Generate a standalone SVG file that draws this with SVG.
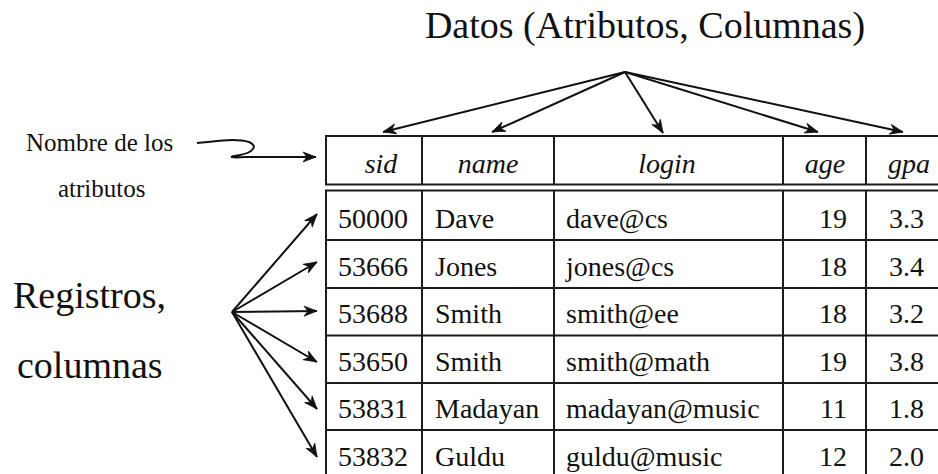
<svg xmlns="http://www.w3.org/2000/svg" width="938" height="474" viewBox="0 0 938 474">
<style>
text{font-family:'Liberation Serif','Tinos','Times New Roman','DejaVu Serif',serif;fill:#111}
.h{font-size:28px;font-style:italic}
.d{font-size:28px}
.grid{fill:none;stroke:#1c1c1c;stroke-width:2}
.arr{fill:none;stroke:#111;stroke-width:2;marker-end:url(#ah)}
</style>
<defs>
<marker id="ah" viewBox="-14 -6 15 12" refX="0" refY="0" markerWidth="15" markerHeight="12" markerUnits="userSpaceOnUse" orient="auto">
<path d="M0,0 L-13,-5 L-9,0 L-13,5 Z" fill="#111" stroke="#111" stroke-width="0.8" stroke-linejoin="miter"/>
</marker>
</defs>
<rect width="938" height="474" fill="#fff"/>

<g id="title">
<text x="645" y="38" font-size="38" text-anchor="middle">Datos (Atributos, Columnas)</text>
</g>
<g id="label-attr">
<text x="26" y="151" font-size="25">Nombre de los</text>
<text x="58" y="197" font-size="25">atributos</text>
</g>
<g id="label-rows">
<text x="13" y="308" font-size="38">Registros,</text>
<text x="17" y="378" font-size="38">columnas</text>
</g>

<g id="table">
<g id="header">
<path class="grid" d="M945,136 H326 V184.5 H945 M422,136 V184.5 M554,136 V184.5 M783,136 V184.5 M866,136 V184.5"/>
<text class="h" x="381" y="173" text-anchor="middle">sid</text>
<text class="h" x="488" y="173" text-anchor="middle">name</text>
<text class="h" x="667" y="173" text-anchor="middle">login</text>
<text class="h" x="825" y="173" text-anchor="middle">age</text>
<text class="h" x="909" y="173" text-anchor="middle">gpa</text>
</g>
<g id="body">
<path class="grid" d="M945,190.5 H326 V480 M326,240 H945 M326,288 H945 M326,335.5 H945 M326,383 H945 M326,430 H945 M422,190.5 V480 M554,190.5 V480 M783,190.5 V480 M866,190.5 V480"/>
<g id="row1">
<text class="d" x="338" y="228">50000</text>
<text class="d" x="435" y="228">Dave</text>
<text class="d" x="566" y="228">dave@cs</text>
<text class="d" x="847" y="228" text-anchor="end">19</text>
<text class="d" x="924" y="228" text-anchor="end">3.3</text>
</g>
<g id="row2">
<text class="d" x="338" y="276">53666</text>
<text class="d" x="435" y="276">Jones</text>
<text class="d" x="566" y="276">jones@cs</text>
<text class="d" x="847" y="276" text-anchor="end">18</text>
<text class="d" x="924" y="276" text-anchor="end">3.4</text>
</g>
<g id="row3">
<text class="d" x="338" y="323">53688</text>
<text class="d" x="435" y="323">Smith</text>
<text class="d" x="566" y="323">smith@ee</text>
<text class="d" x="847" y="323" text-anchor="end">18</text>
<text class="d" x="924" y="323" text-anchor="end">3.2</text>
</g>
<g id="row4">
<text class="d" x="338" y="371">53650</text>
<text class="d" x="435" y="371">Smith</text>
<text class="d" x="566" y="371">smith@math</text>
<text class="d" x="847" y="371" text-anchor="end">19</text>
<text class="d" x="924" y="371" text-anchor="end">3.8</text>
</g>
<g id="row5">
<text class="d" x="338" y="418">53831</text>
<text class="d" x="435" y="418">Madayan</text>
<text class="d" x="566" y="418">madayan@music</text>
<text class="d" x="847" y="418" text-anchor="end">11</text>
<text class="d" x="924" y="418" text-anchor="end">1.8</text>
</g>
<g id="row6">
<text class="d" x="338" y="466">53832</text>
<text class="d" x="435" y="466">Guldu</text>
<text class="d" x="566" y="466">guldu@music</text>
<text class="d" x="847" y="466" text-anchor="end">12</text>
<text class="d" x="924" y="466" text-anchor="end">2.0</text>
</g>
</g>
</g>

<g id="connectors">
<line class="arr" x1="625" y1="72" x2="383" y2="132"/>
<line class="arr" x1="625" y1="72" x2="492" y2="132"/>
<line class="arr" x1="625" y1="72" x2="663" y2="133"/>
<line class="arr" x1="625" y1="72" x2="818" y2="132"/>
<line class="arr" x1="625" y1="72" x2="903" y2="132"/>
<line class="arr" x1="232" y1="312" x2="317" y2="214"/>
<line class="arr" x1="232" y1="312" x2="317" y2="262"/>
<line class="arr" x1="232" y1="312" x2="317" y2="311"/>
<line class="arr" x1="232" y1="312" x2="317" y2="362"/>
<line class="arr" x1="232" y1="312" x2="317" y2="409"/>
<line class="arr" x1="232" y1="312" x2="317" y2="457"/>
<path class="arr" d="M197,143 C215,141 236,138 249,142 C259,146 252,153 240,155 C226,157 231,158 246,157 L316,157"/>
</g>
</svg>
